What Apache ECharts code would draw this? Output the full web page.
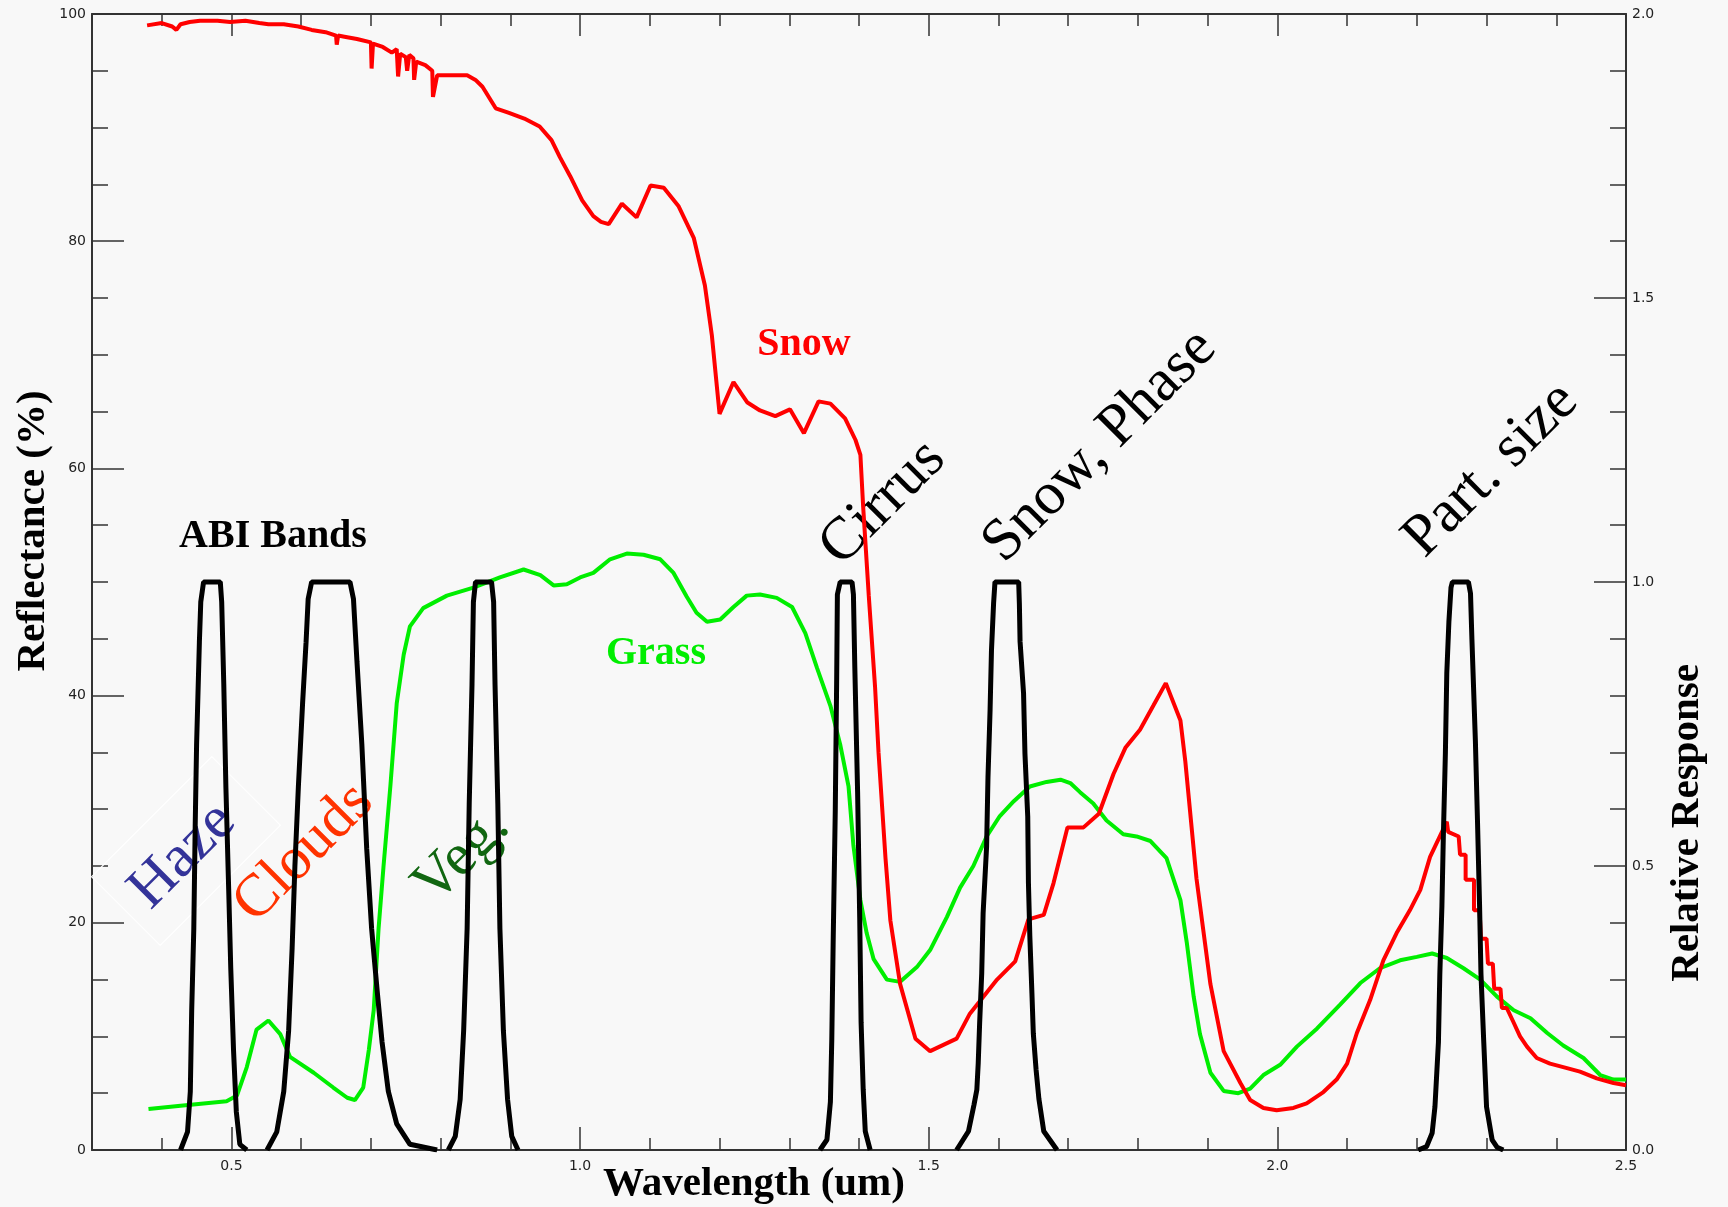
<!DOCTYPE html>
<html>
<head>
<meta charset="utf-8">
<script src="https://cdn.jsdelivr.net/npm/echarts@6/dist/echarts.min.js"></script>
<style>
html,body{margin:0;padding:0;background:#f8f8f8;}
#chart{width:1728px;height:1207px;}
</style>
</head>
<body>
<div id="chart"></div>
<script>
// ---- Data ----
var xMajorTicks = [0.5, 1.0, 1.5, 2.0, 2.5];
var yLeftLabels = [0, 20, 40, 60, 80, 100];
var yRightLabels = [0.0, 0.5, 1.0, 1.5, 2.0];

// Snow reflectance (%) vs wavelength (um)
var snow = [
[0.379,99.0],[0.400,99.2],[0.415,98.9],[0.421,98.6],[0.427,99.1],[0.440,99.3],[0.455,99.4],[0.480,99.4],
[0.498,99.3],[0.520,99.4],[0.540,99.2],[0.553,99.1],[0.575,99.1],[0.596,98.9],[0.615,98.6],[0.635,98.4],
[0.650,98.1],[0.651,97.3],[0.653,98.1],[0.662,98.0],[0.680,97.8],[0.700,97.5],[0.701,95.2],[0.703,97.4],
[0.717,97.1],[0.730,96.6],[0.737,96.9],[0.739,94.5],[0.742,96.5],[0.750,96.2],[0.752,95.0],[0.755,96.4],
[0.761,96.1],[0.762,94.2],[0.765,95.8],[0.778,95.5],[0.788,95.0],[0.789,92.7],[0.795,94.6],[0.802,94.6],
[0.838,94.6],[0.850,94.2],[0.860,93.6],[0.879,91.7],[0.898,91.3],[0.920,90.8],[0.942,90.1],[0.959,88.9],
[0.971,87.4],[0.986,85.7],[1.003,83.6],[1.019,82.2],[1.030,81.7],[1.041,81.5],[1.060,83.3],[1.081,82.1],
[1.101,84.9],[1.120,84.7],[1.141,83.1],[1.163,80.3],[1.179,76.1],[1.189,71.7],[1.200,64.8],[1.220,67.6],
[1.240,65.8],[1.258,65.1],[1.280,64.6],[1.301,65.2],[1.321,63.1],[1.342,65.9],[1.359,65.7],[1.380,64.4],
[1.395,62.5],[1.402,61.2],[1.406,56.6],[1.414,48.8],[1.423,40.8],[1.428,35.0],[1.438,25.7],[1.445,20.2],
[1.459,14.6],[1.481,9.8],[1.502,8.7],[1.540,9.8],[1.559,12.0],[1.598,15.0],[1.624,16.6],[1.643,20.3],
[1.665,20.7],[1.679,23.5],[1.699,28.4],[1.722,28.4],[1.744,29.6],[1.765,33.1],[1.782,35.4],[1.803,37.0],
[1.822,39.1],[1.840,41.1],[1.861,37.8],[1.868,34.2],[1.884,23.9],[1.904,14.6],[1.923,8.7],[1.947,5.9],
[1.961,4.4],[1.980,3.7],[1.999,3.5],[2.023,3.7],[2.042,4.1],[2.066,5.1],[2.085,6.2],[2.100,7.6],
[2.114,10.3],[2.133,13.2],[2.152,16.7],[2.171,19.1],[2.190,21.1],[2.205,22.9],[2.219,25.8],[2.233,27.6],
[2.243,28.9],[2.245,28.0],[2.260,27.6],[2.262,26.0],[2.270,26.0],[2.270,23.8],[2.282,23.8],[2.282,21.1],
[2.290,21.1],[2.292,18.6],[2.300,18.6],[2.302,16.4],[2.309,16.4],[2.311,14.2],[2.320,14.2],[2.322,12.5],
[2.329,12.5],[2.339,11.2],[2.348,10.0],[2.358,9.1],[2.372,8.1],[2.391,7.6],[2.410,7.3],[2.434,6.9],
[2.458,6.3],[2.482,5.9],[2.500,5.7]
];

// Grass reflectance (%) vs wavelength (um)
var grass = [
[0.381,3.6],[0.427,3.9],[0.493,4.3],[0.508,4.8],[0.522,7.3],[0.536,10.6],[0.553,11.4],[0.570,10.2],
[0.584,8.2],[0.618,6.8],[0.646,5.5],[0.666,4.6],[0.677,4.4],[0.689,5.5],[0.697,8.8],[0.704,12.3],
[0.711,19.5],[0.718,24.9],[0.728,32.1],[0.737,39.3],[0.747,43.6],[0.756,46.1],[0.775,47.7],[0.809,48.8],
[0.847,49.5],[0.885,50.4],[0.919,51.1],[0.943,50.6],[0.962,49.7],[0.981,49.8],[1.000,50.4],[1.019,50.8],
[1.043,52.0],[1.067,52.5],[1.091,52.4],[1.115,52.0],[1.134,50.8],[1.153,48.7],[1.167,47.3],[1.182,46.5],
[1.201,46.7],[1.220,47.8],[1.239,48.8],[1.258,48.9],[1.282,48.6],[1.304,47.8],[1.323,45.5],[1.340,42.4],
[1.359,39.1],[1.373,35.7],[1.385,32.0],[1.392,26.8],[1.402,22.0],[1.411,19.1],[1.421,16.8],[1.440,15.0],
[1.459,14.8],[1.483,16.1],[1.502,17.6],[1.526,20.5],[1.545,23.1],[1.564,25.0],[1.583,27.6],[1.602,29.4],
[1.622,30.7],[1.645,32.0],[1.669,32.4],[1.689,32.6],[1.703,32.3],[1.717,31.5],[1.736,30.5],[1.755,29.0],
[1.779,27.8],[1.798,27.6],[1.818,27.2],[1.841,25.7],[1.861,22.0],[1.870,18.3],[1.880,13.5],[1.889,10.2],
[1.904,6.8],[1.923,5.2],[1.944,5.0],[1.961,5.4],[1.980,6.6],[2.004,7.5],[2.028,9.1],[2.057,10.7],
[2.090,12.8],[2.119,14.7],[2.147,16.0],[2.176,16.7],[2.200,17.0],[2.222,17.3],[2.243,16.9],[2.267,16.0],
[2.291,15.0],[2.315,13.5],[2.339,12.3],[2.363,11.6],[2.387,10.3],[2.410,9.2],[2.439,8.1],[2.463,6.6],
[2.482,6.2],[2.500,6.2]
];

// ABI band relative responses vs wavelength (um)
var band1 = [[0.427,0],[0.437,0.032],[0.441,0.103],[0.443,0.247],[0.446,0.39],[0.448,0.57],[0.450,0.714],[0.454,0.894],[0.456,0.965],[0.460,1.0],[0.484,1.0],[0.486,0.965],[0.489,0.82],[0.492,0.64],[0.496,0.46],[0.499,0.32],[0.503,0.175],[0.507,0.067],[0.512,0.01],[0.522,0]];
var band2 = [[0.551,0],[0.565,0.032],[0.575,0.103],[0.582,0.21],[0.587,0.355],[0.591,0.50],[0.596,0.64],[0.602,0.786],[0.607,0.894],[0.610,0.97],[0.615,1.0],[0.670,1.0],[0.675,0.97],[0.680,0.86],[0.687,0.714],[0.694,0.53],[0.701,0.39],[0.709,0.28],[0.716,0.19],[0.725,0.103],[0.737,0.046],[0.756,0.01],[0.795,0]];
var band3 = [[0.811,0],[0.821,0.024],[0.828,0.089],[0.833,0.21],[0.838,0.39],[0.841,0.61],[0.845,0.82],[0.847,0.965],[0.850,1.0],[0.873,1.0],[0.876,0.965],[0.878,0.82],[0.882,0.61],[0.885,0.39],[0.890,0.21],[0.896,0.089],[0.902,0.024],[0.911,0]];
var band4 = [[1.344,0],[1.354,0.018],[1.359,0.085],[1.361,0.196],[1.363,0.37],[1.366,0.60],[1.368,0.83],[1.369,0.978],[1.373,1.0],[1.390,1.0],[1.392,0.978],[1.394,0.85],[1.398,0.63],[1.401,0.41],[1.403,0.225],[1.406,0.107],[1.409,0.033],[1.416,0]];
var band5 = [[1.540,0],[1.557,0.033],[1.565,0.08],[1.569,0.106],[1.571,0.153],[1.573,0.223],[1.576,0.311],[1.578,0.417],[1.583,0.534],[1.585,0.657],[1.588,0.775],[1.590,0.88],[1.593,0.962],[1.595,1.0],[1.629,1.0],[1.630,0.962],[1.631,0.895],[1.636,0.804],[1.638,0.698],[1.642,0.587],[1.643,0.470],[1.645,0.376],[1.648,0.276],[1.650,0.205],[1.654,0.141],[1.658,0.09],[1.665,0.033],[1.684,0]];
var band6 = [[2.202,0],[2.214,0.006],[2.222,0.03],[2.226,0.076],[2.231,0.19],[2.233,0.31],[2.236,0.43],[2.238,0.55],[2.241,0.70],[2.243,0.84],[2.246,0.93],[2.249,0.99],[2.251,1.0],[2.274,1.0],[2.277,0.98],[2.279,0.90],[2.284,0.72],[2.287,0.58],[2.290,0.43],[2.292,0.31],[2.296,0.19],[2.300,0.076],[2.308,0.018],[2.315,0.005],[2.324,0]];
var bands = [band1, band2, band3, band4, band5, band6];

// ---- Chart ----
var chart = echarts.init(document.getElementById('chart'), null, {renderer:'canvas'});
var AX = '#333';
var serif = '"Liberation Serif", "Times New Roman", serif';
var tickFont = {fontFamily:'"DejaVu Sans", sans-serif', fontSize:14, color:'#222'};

function bandSeries(d, i){
  return {type:'line', name:'band'+(i+1), data:d, xAxisIndex:0, yAxisIndex:1,
    showSymbol:false, symbol:'none', z:5,
    lineStyle:{color:'#000', width:5}};
}

function txt(t, x, y, rot, font, color){
  return {type:'text', x:x, y:y, rotation:rot, z:1, silent:true,
    style:{text:t, font:font, fill:color,
      textAlign:'center', align:'center',
      textVerticalAlign:'middle', verticalAlign:'middle'}};
}

var option = {
  backgroundColor:'#f8f8f8',
  animation:false,
  grid:{left:92, right:102, top:14, bottom:57, containLabel:false},
  xAxis:[
    {type:'value', min:0.3, max:2.5, interval:0.1, position:'bottom',
     axisLine:{show:true, onZero:false, lineStyle:{color:AX, width:2}},
     axisTick:{show:true, inside:true, length:12, lineStyle:{color:AX, width:1.5}},
     axisLabel:Object.assign({show:true, margin:9, customValues:xMajorTicks,
       formatter:function(v){return v.toFixed(1);}}, tickFont),
     splitLine:{show:false}},
    {type:'value', min:0.3, max:2.5, position:'bottom',
     axisLine:{show:false, onZero:false},
     axisTick:{show:true, inside:true, length:23, customValues:xMajorTicks, lineStyle:{color:AX, width:1.5}},
     axisLabel:{show:false}, splitLine:{show:false}},
    {type:'value', min:0.3, max:2.5, interval:0.1, position:'top',
     axisLine:{show:true, onZero:false, lineStyle:{color:AX, width:2}},
     axisTick:{show:true, inside:true, length:12, lineStyle:{color:AX, width:1.5}},
     axisLabel:{show:false}, splitLine:{show:false}},
    {type:'value', min:0.3, max:2.5, position:'top',
     axisLine:{show:false, onZero:false},
     axisTick:{show:true, inside:true, length:22, customValues:xMajorTicks, lineStyle:{color:AX, width:1.5}},
     axisLabel:{show:false}, splitLine:{show:false}}
  ],
  yAxis:[
    {type:'value', min:0, max:100, interval:20, position:'left',
     axisLine:{show:true, onZero:false, lineStyle:{color:AX, width:2}},
     axisTick:{show:true, inside:true, length:32, lineStyle:{color:AX, width:1.5}},
     minorTick:{show:true, splitNumber:4, length:16, lineStyle:{color:AX, width:1.5}},
     axisLabel:Object.assign({margin:6, customValues:yLeftLabels}, tickFont),
     splitLine:{show:false}, minorSplitLine:{show:false}},
    {type:'value', min:0, max:2, interval:0.5, position:'right',
     axisLine:{show:true, onZero:false, lineStyle:{color:AX, width:2}},
     axisTick:{show:true, inside:true, length:32, lineStyle:{color:AX, width:1.5}},
     minorTick:{show:true, splitNumber:5, length:16, lineStyle:{color:AX, width:1.5}},
     axisLabel:Object.assign({margin:6, customValues:yRightLabels,
       formatter:function(v){return v.toFixed(1);}}, tickFont),
     splitLine:{show:false}, minorSplitLine:{show:false}}
  ],
  series:[
    {type:'line', name:'Grass', data:grass, xAxisIndex:0, yAxisIndex:0, showSymbol:false, symbol:'none', z:3,
     lineStyle:{color:'#00ee00', width:4}},
    {type:'line', name:'Snow', data:snow, xAxisIndex:0, yAxisIndex:0, showSymbol:false, symbol:'none', z:4,
     lineStyle:{color:'#ff0000', width:4}}
  ].concat(bands.map(bandSeries)),
  graphic:[
    {type:'rect', x:186, y:851, rotation:Math.PI/4, z:1, silent:true,
     shape:{x:-85, y:-48.5, width:170, height:97},
     style:{fill:'none', stroke:'#ffffff', lineWidth:1.2}},
    txt('ABI Bands', 273, 537, 0, 'bold 40px '+serif, '#000'),
    txt('Snow', 804, 345, 0, 'bold 40px '+serif, '#ff0000'),
    txt('Grass', 656, 654, 0, 'bold 40px '+serif, '#00ee00'),
    txt('Cirrus', 883, 503, Math.PI/4, '60px '+serif, '#000'),
    txt('Snow, Phase', 1100, 446, Math.PI/4, '60px '+serif, '#000'),
    txt('Part. size', 1491, 470, Math.PI/4, '60px '+serif, '#000'),
    txt('Haze', 183, 856, Math.PI/4, '60px '+serif, '#333399'),
    txt('Clouds', 304, 853, Math.PI/4, '60px '+serif, '#ff3300'),
    txt('Veg.', 462, 856, Math.PI/4, '60px '+serif, '#116611'),
    txt('Reflectance (%)', 33, 531, Math.PI/2, 'bold 41px '+serif, '#000'),
    txt('Relative Response', 1687, 823, Math.PI/2, 'bold 41px '+serif, '#000'),
    txt('Wavelength (um)', 754, 1184, 0, 'bold 41px '+serif, '#000')
  ]
};

chart.setOption(option);
</script>
</body>
</html>
